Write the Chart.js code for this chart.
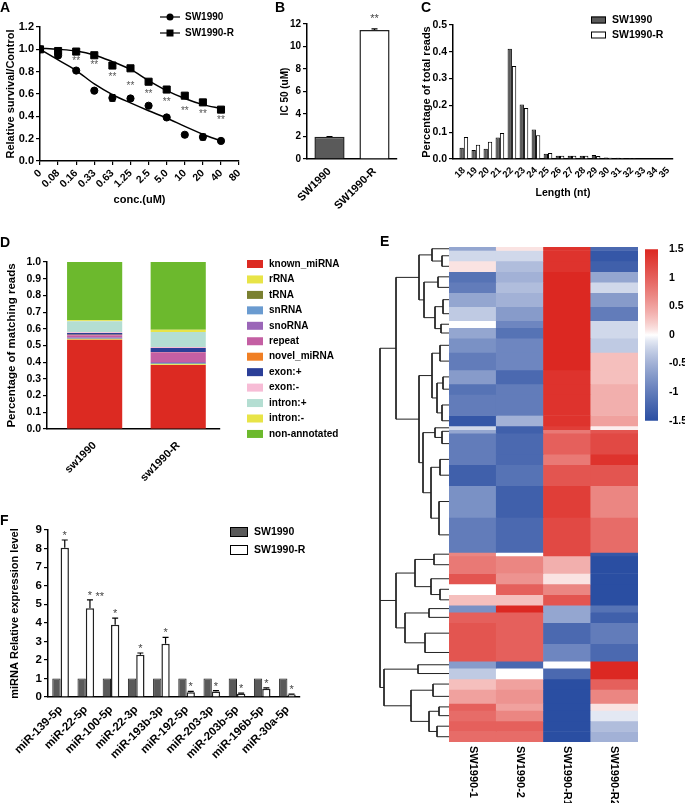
<!DOCTYPE html>
<html>
<head>
<meta charset="utf-8"/>
<title>SW1990 / SW1990-R panels</title>
<script src="https://cdn.jsdelivr.net/npm/chart.js@4.4.1/dist/chart.umd.min.js"></script>
<style>
body{margin:0;background:#fff;}
#fig{position:relative;width:685px;height:803px;overflow:hidden;background:#fff;}
canvas{position:absolute;}
</style>
</head>
<body>
<div id="fig">
<canvas id="cA" width="250" height="211" style="left:0;top:0"></canvas>
<canvas id="cB" width="150" height="215" style="left:250px;top:0"></canvas>
<canvas id="cC" width="285" height="211" style="left:400px;top:0"></canvas>
<canvas id="cD" width="360" height="280" style="left:0;top:230px"></canvas>
<canvas id="cF" width="360" height="293" style="left:0;top:510px"></canvas>
<canvas id="cTree" width="76" height="514" style="left:376px;top:232px"></canvas>
<canvas id="cHeat" width="189" height="556" style="left:449px;top:247px"></canvas>
<canvas id="cBar" width="45" height="190" style="left:640px;top:240px"></canvas>
</div>
<script>
// ---- A: survival curves
const concLabels = ['0','0.08','0.16','0.33','0.63','1.25','2.5','5.0','10','20','40','80'];
const survSW    = [1.0,0.945,0.81,0.63,0.565,0.56,0.495,0.39,0.235,0.215,0.18];
const survSWerr = [0,0.01,0,0,0.03,0,0,0,0,0.025,0];
const survR     = [1.0,0.985,0.98,0.947,0.855,0.83,0.71,0.64,0.585,0.525,0.46];
const survRerr  = [0,0,0,0,0.01,0,0,0,0.015,0,0];
const fitSW     = [1.0,0.905,0.81,0.69,0.595,0.52,0.45,0.385,0.31,0.24,0.18];
const fitR      = [1.01,1.0,0.985,0.95,0.89,0.82,0.72,0.63,0.56,0.505,0.47];
const sigA      = [null,null,0.915,0.875,0.77,0.69,0.62,0.54,0.465,0.435,0.385];

// ---- B: IC50
const icLabels = ['SW1990','SW1990-R'];
const icValues = [1.97,11.47];
const icErr    = [0.03,0.1];

// ---- C: length distribution
const lenNt = [18,19,20,21,22,23,24,25,26,27,28,29,30,31,32,33,34,35];
const lenSW = [0.042,0.034,0.038,0.080,0.411,0.203,0.110,0.020,0.012,0.012,0.012,0.015,0.006,0.005,0.004,0.002,0.002,0.001];
const lenR  = [0.082,0.053,0.064,0.097,0.347,0.190,0.089,0.022,0.012,0.012,0.012,0.011,0.005,0.004,0.003,0.002,0.001,0.001];

// ---- D: annotation of matching reads
const dSamples = ['sw1990','sw1990-R'];
const dCats = ['known_miRNA','rRNA','tRNA','snRNA','snoRNA','repeat','novel_miRNA','exon:+','exon:-','intron:+','intron:-','non-annotated'];
const dSW1990  = [0.535,0.004,0.002,0.003,0.006,0.012,0.002,0.011,0.005,0.065,0.006,0.349];
const dSW1990R = [0.383,0.004,0.003,0.005,0.006,0.058,0.002,0.024,0.006,0.090,0.013,0.406];
const dColors = ['#dc2a22','#e8e447','#7a8030','#6a9bd0','#9b66b8','#c45fa3','#f07f24','#2b3f98','#f7bcd6','#b4ded2','#e8e447','#6cb92d'];

// ---- E: heatmap (row blocks, rows per block, z-scores per sample)
const heatSamples = ['SW1990-1','SW1990-2','SW1990-R1','SW1990-R2'];
const blockRows = [1,3,3,3,3,4,4,2,3,4,5,4,3,6,3,1,1,6,3,6,9,10,1,5,3,3,3,2,3,6,5,2,3,3,4,2,3,3,3];
const heatS1 = [-0.6,-0.2,0.1,-1.1,-1.0,-0.6,-0.3,0.0,-0.6,-0.8,-1.0,-0.7,-1.1,-1.0,-1.4,-0.2,-0.6,-1.0,-1.0,-1.3,-0.8,-1.0,0.7,0.8,1.1,0.0,0.3,-0.8,1.0,1.1,1.1,-0.7,-0.3,0.3,0.5,1.0,0.9,1.0,0.9];
const heatS2 = [0.1,-0.2,-0.4,-0.5,-0.4,-0.5,-0.7,-0.9,-1.1,-0.9,-0.9,-1.2,-1.0,-1.0,-0.5,-1.3,-1.3,-1.2,-1.2,-1.1,-1.3,-1.2,0.0,0.7,0.6,1.0,0.3,1.5,1.0,1.0,1.0,-1.2,0.0,0.5,0.6,0.5,0.7,1.0,0.9];
const heatR1 = [1.4,1.4,1.4,1.5,1.5,1.5,1.5,1.5,1.5,1.5,1.5,1.4,1.4,1.4,1.4,1.3,0.8,1.0,0.8,1.1,1.3,1.2,1.2,0.4,0.1,0.7,1.1,-0.6,-0.6,-1.2,-0.9,0.0,-1.2,-1.5,-1.5,-1.5,-1.5,-1.5,-1.5];
const heatR2 = [-1.2,-1.4,-1.3,-0.6,-0.2,-0.7,-1.0,-0.2,-0.2,-0.3,0.3,0.3,0.4,0.4,0.5,0.05,1.1,1.2,1.4,1.1,0.7,0.9,-1.4,-1.5,-1.5,-1.5,-1.5,-1.1,-1.3,-1.0,-1.2,1.5,1.5,1.0,0.7,0.1,-0.1,-0.4,-0.5];
const colorTicks = [1.5,1,0.5,0,-0.5,-1,-1.5];
// dendrogram: [mergeHeight, child, child, ...], leaves are block indices
const dendroTree = [6.9,
  [5.3,
    [3.0, [1.7, 0, [0.7, 1, 2]], [2.5, [1.1, 3, 4], [1.4, [0.6, 5, 6], [0.8, 7, 8]]]],
    [3.0, [1.7, [0.9, 9, 10], [1.2, [0.6, 11, 12], [0.7, 13, 14]]],
          [2.6, [1.4, 15, [0.7, 16, 17]], [1.8, [0.9, 18, 19], [1.0, 20, 21]]]]],
  [5.3, [3.4, [1.5, 22, 23], [1.8, 24, [0.9, 25, 26]]], [4.4, [2.0, 27, 28], [2.4, 29, 30]]],
  [6.5, [3.1, 31, 32], [3.8, [1.6, 33, 34], [2.0, [1.0, 35, 36], [1.2, 37, 38]]]]
];

// ---- F: qPCR
const mirLabels = ['miR-139-5p','miR-22-5p','miR-100-5p','miR-22-3p','miR-193b-3p','miR-192-5p','miR-203-3p','miR-203b-5p','miR-196b-5p','miR-30a-5p'];
const qSW  = [1,1,1,1,1,1,1,1,1,1];
const qR   = [8.05,4.78,3.89,2.28,2.87,0.25,0.30,0.18,0.45,0.14];
const qRerr = [0.41,0.45,0.36,0.09,0.34,0.05,0.04,0.03,0.04,0.02];
const qMarks = ['*','*','*','*','*','*','*','*','*','*'];

const FONT = "'Liberation Sans', Arial, Helvetica, sans-serif";
Chart.defaults.font.family = FONT;
Chart.defaults.font.weight = 'bold';
Chart.defaults.font.size = 11;
Chart.defaults.color = '#000';
Chart.defaults.animation = false;
Chart.defaults.plugins.legend.display = false;
Chart.defaults.plugins.tooltip.enabled = false;

// error bars + significance marks on datasets that carry them
const errorBars = {
  id: 'errorBars',
  afterDatasetsDraw(chart) {
    const ctx = chart.ctx;
    chart.data.datasets.forEach((ds, i) => {
      if (!ds.errors && !ds.marks) return;
      const meta = chart.getDatasetMeta(i);
      const ys = chart.scales[meta.yAxisID];
      meta.data.forEach((el, j) => {
        const raw = ds.data[j];
        const v = typeof raw === 'object' ? raw.y : raw;
        const e = ds.errors ? ds.errors[j] : 0;
        const top = ys.getPixelForValue(v + e);
        ctx.save();
        if (e) {
          const bot = ys.getPixelForValue(ds.errBoth ? v - e : v);
          const cap = ds.cap || 3;
          ctx.strokeStyle = '#000';
          ctx.lineWidth = 1.2;
          ctx.beginPath();
          ctx.moveTo(el.x, top); ctx.lineTo(el.x, bot);
          ctx.moveTo(el.x - cap, top); ctx.lineTo(el.x + cap, top);
          if (ds.errBoth) { ctx.moveTo(el.x - cap, bot); ctx.lineTo(el.x + cap, bot); }
          ctx.stroke();
        }
        if (ds.marks && ds.marks[j]) {
          ctx.fillStyle = '#444';
          ctx.font = '11px ' + FONT;
          ctx.textAlign = 'center';
          ctx.textBaseline = 'alphabetic';
          ctx.fillText(ds.marks[j], el.x, top - (ds.markGap || 1));
        }
        ctx.restore();
      });
    });
  }
};
Chart.register(errorBars);

// panel letter, hand drawn legend, free text in data coords
function decorPlugin(cfg) {
  return {
    id: 'decor',
    afterDraw(chart) {
      const ctx = chart.ctx;
      ctx.save();
      ctx.fillStyle = '#000';
      ctx.textAlign = 'left';
      ctx.textBaseline = 'alphabetic';
      if (cfg.letter) {
        ctx.font = 'bold 14px ' + FONT;
        ctx.fillText(cfg.letter, cfg.lx, cfg.ly);
      }
      (cfg.legend || []).forEach(it => {
        let tx;
        ctx.strokeStyle = '#000';
        ctx.lineWidth = 1.2;
        if (it.shape) {
          ctx.beginPath(); ctx.moveTo(it.x, it.y); ctx.lineTo(it.x + 20, it.y); ctx.stroke();
          ctx.fillStyle = '#000';
          ctx.beginPath();
          if (it.shape === 'circle') ctx.arc(it.x + 10, it.y, 3.5, 0, Math.PI * 2);
          else ctx.rect(it.x + 6.5, it.y - 3.5, 7, 7);
          ctx.fill();
          tx = it.x + 25;
        } else {
          ctx.fillStyle = it.fill;
          ctx.fillRect(it.x, it.y - it.h / 2, it.w, it.h);
          if (it.stroke) {
            ctx.lineWidth = 1;
            ctx.strokeRect(it.x + 0.5, it.y - it.h / 2 + 0.5, it.w - 1, it.h - 1);
          }
          tx = it.x + it.w + 6;
        }
        ctx.fillStyle = '#000';
        ctx.font = 'bold ' + (it.size || 10) + 'px ' + FONT;
        ctx.textBaseline = 'middle';
        ctx.fillText(it.text, tx, it.y);
      });
      (cfg.texts || []).forEach(t => {
        const x = chart.scales.x.getPixelForValue(t.xv) + (t.dx || 0);
        const y = chart.scales.y.getPixelForValue(t.yv);
        ctx.fillStyle = t.color || '#555';
        ctx.font = (t.size || 10) + 'px ' + FONT;
        ctx.textAlign = 'center';
        ctx.textBaseline = 'middle';
        ctx.fillText(t.t, x, y + 2);
      });
      ctx.restore();
    }
  };
}

function ax(o) {
  o.border = {display: true, color: '#000', width: 1.5};
  o.grid = Object.assign({drawOnChartArea: false, tickLength: 4, color: '#000', lineWidth: 1.2}, o.grid || {});
  o.ticks = Object.assign({color: '#000', padding: 2, autoSkip: false}, o.ticks || {});
  return o;
}
const pts = arr => arr.map((v, i) => ({x: i, y: v}));

// ---------- A
new Chart(document.getElementById('cA'), {
  type: 'scatter',
  data: {datasets: [
    {data: pts(fitSW), showLine: true, borderColor: '#000', borderWidth: 1.5, pointRadius: 0, cubicInterpolationMode: 'monotone'},
    {data: pts(fitR), showLine: true, borderColor: '#000', borderWidth: 1.5, pointRadius: 0, cubicInterpolationMode: 'monotone'},
    {data: pts(survSW), pointStyle: 'circle', pointRadius: 3.6, backgroundColor: '#000', borderColor: '#000', errors: survSWerr, errBoth: true},
    {data: pts(survR), pointStyle: 'rect', pointRadius: 5, backgroundColor: '#000', borderColor: '#000', errors: survRerr, errBoth: true}
  ]},
  options: {
    responsive: false,
    layout: {padding: {top: 27, right: 7, left: 0, bottom: 0}},
    scales: {
      x: ax({type: 'linear', min: 0, max: 11, afterFit: s => { s.height = 50; },
        ticks: {stepSize: 1, maxRotation: 45, minRotation: 45, font: {size: 10.5}, callback: v => concLabels[v]},
        title: {display: true, text: 'conc.(uM)', font: {size: 11}, padding: {top: 0, bottom: 4}}}),
      y: ax({min: 0, max: 1.2, afterFit: s => { s.width = 40; },
        ticks: {stepSize: 0.2, callback: v => v.toFixed(1)},
        title: {display: true, text: 'Relative survival/Control', font: {size: 11}, padding: {top: 4, bottom: 0}}})
    }
  },
  plugins: [decorPlugin({
    letter: 'A', lx: 0, ly: 12,
    legend: [
      {shape: 'circle', text: 'SW1990', x: 160, y: 17},
      {shape: 'rect', text: 'SW1990-R', x: 160, y: 33}
    ],
    texts: sigA.map((v, i) => v == null ? null : {t: '**', xv: i, yv: v}).filter(Boolean)
  })]
});

// ---------- B
new Chart(document.getElementById('cB'), {
  type: 'bar',
  data: {labels: icLabels, datasets: [{
    data: icValues, errors: icErr, marks: ['', '**'], markGap: 7,
    backgroundColor: ['#5a5a5a', '#ffffff'], borderColor: '#222', borderWidth: 1.5,
    categoryPercentage: 0.67, barPercentage: 1
  }]},
  options: {
    responsive: false,
    layout: {padding: {top: 24, right: 3, left: 0, bottom: 0}},
    scales: {
      x: ax({afterFit: s => { s.height = 56; }, grid: {display: false},
        ticks: {maxRotation: 45, minRotation: 45, font: {size: 11}}}),
      y: ax({min: 0, max: 12, afterFit: s => { s.width = 57; },
        ticks: {stepSize: 2, font: {size: 10}},
        title: {display: true, text: 'IC 50 (uM)', font: {size: 10}, padding: {top: 29, bottom: 0}}})
    }
  },
  plugins: [decorPlugin({letter: 'B', lx: 25, ly: 12})]
});

// ---------- C
new Chart(document.getElementById('cC'), {
  type: 'bar',
  data: {datasets: [
    {label: 'SW1990', data: lenNt.map((x, i) => ({x: x, y: lenSW[i]})), backgroundColor: '#5a5a5a', borderColor: '#000', borderWidth: 1},
    {label: 'SW1990-R', data: lenNt.map((x, i) => ({x: x, y: lenR[i]})), backgroundColor: '#ffffff', borderColor: '#000', borderWidth: 1}
  ]},
  options: {
    responsive: false,
    categoryPercentage: 0.72, barPercentage: 1,
    layout: {padding: {top: 25, right: 12, left: 0, bottom: 0}},
    scales: {
      x: ax({type: 'linear', min: 17.1, max: 35.4, offset: false, grid: {display: false, offset: false},
        afterFit: s => { s.height = 52; },
        afterBuildTicks: s => { s.ticks = lenNt.map(v => ({value: v})); },
        ticks: {maxRotation: 45, minRotation: 45, font: {size: 9.5}, callback: v => String(v)},
        title: {display: true, text: 'Length (nt)', font: {size: 10.5}, padding: {top: 0, bottom: 12}}}),
      y: ax({min: 0, max: 0.5, afterFit: s => { s.width = 53; },
        ticks: {stepSize: 0.1, font: {size: 10.5}, callback: v => v.toFixed(1)},
        title: {display: true, text: 'Percentage of total reads', font: {size: 11}, padding: {top: 20, bottom: 0}}})
    }
  },
  plugins: [decorPlugin({
    letter: 'C', lx: 21, ly: 12,
    legend: [
      {fill: '#5a5a5a', stroke: true, w: 15, h: 7, x: 191, y: 20, text: 'SW1990', size: 10.5},
      {fill: '#ffffff', stroke: true, w: 15, h: 7, x: 191, y: 35, text: 'SW1990-R', size: 10.5}
    ]
  })]
});

// ---------- D
new Chart(document.getElementById('cD'), {
  type: 'bar',
  data: {datasets: dCats.map((c, k) => ({
    label: c,
    data: [{x: 0, y: dSW1990[k]}, {x: 1, y: dSW1990R[k]}],
    backgroundColor: dColors[k], borderWidth: 0,
    categoryPercentage: 0.66, barPercentage: 1
  }))},
  options: {
    responsive: false,
    layout: {padding: {top: 32, right: 140, left: 0, bottom: 0}},
    scales: {
      x: ax({type: 'linear', stacked: true, min: -0.57, max: 1.5, offset: false, grid: {display: false, offset: false},
        afterFit: s => { s.height = 81; },
        afterBuildTicks: s => { s.ticks = [{value: 0}, {value: 1}]; },
        ticks: {maxRotation: 45, minRotation: 45, padding: 6, callback: v => dSamples[v]}}),
      y: ax({stacked: true, min: 0, max: 1, afterFit: s => { s.width = 47; },
        ticks: {stepSize: 0.1, font: {size: 10.5}, callback: v => v.toFixed(1)},
        title: {display: true, text: 'Percentage of matching reads', font: {size: 11.5}, padding: {top: 5, bottom: 0}}})
    }
  },
  plugins: [decorPlugin({
    letter: 'D', lx: 0, ly: 17,
    legend: dCats.map((c, k) => ({fill: dColors[k], w: 16, h: 8, x: 247, y: 34 + 15.45 * k, text: c, size: 10}))
  })]
});

// ---------- F
new Chart(document.getElementById('cF'), {
  type: 'bar',
  data: {labels: mirLabels, datasets: [
    {label: 'SW1990', data: qSW, backgroundColor: '#5a5a5a', borderColor: '#222', borderWidth: 1},
    {label: 'SW1990-R', data: qR, errors: qRerr, marks: qMarks, markGap: 1, backgroundColor: '#ffffff', borderColor: '#222', borderWidth: 1.5}
  ]},
  options: {
    responsive: false,
    categoryPercentage: 0.66, barPercentage: 1,
    layout: {padding: {top: 20, right: 60, left: 0, bottom: 0}},
    scales: {
      x: ax({afterFit: s => { s.height = 106; }, grid: {display: false},
        ticks: {maxRotation: 45, minRotation: 45, font: {size: 11.5}}}),
      y: ax({min: 0, max: 9, afterFit: s => { s.width = 48; },
        ticks: {stepSize: 1, font: {size: 11.5}},
        title: {display: true, text: 'miRNA Relative expression level', font: {size: 11}, padding: {top: 8.5, bottom: 0}}})
    }
  },
  plugins: [decorPlugin({
    letter: 'F', lx: 0, ly: 15,
    legend: [
      {fill: '#5a5a5a', stroke: true, w: 18, h: 10, x: 230, y: 22, text: 'SW1990', size: 10.5},
      {fill: '#ffffff', stroke: true, w: 18, h: 10, x: 230, y: 40, text: 'SW1990-R', size: 10.5}
    ],
    texts: [{t: '**', xv: 1, yv: 5.5, dx: 14, size: 11, color: '#444'}]
  })]
});

// ---------- E heatmap
function heatColor(v) {
  const t = Math.pow(Math.min(Math.abs(v) / 1.5, 1), 0.75);
  const end = v < 0 ? [42, 78, 162] : [220, 40, 34];
  const c = end.map(e => Math.round(255 + (e - 255) * t));
  return 'rgb(' + c.join(',') + ')';
}
const totalRows = blockRows.reduce((a, b) => a + b, 0);
const heatCols = [heatS1, heatS2, heatR1, heatR2];

const heatLabels = {
  id: 'heatLabels',
  afterDraw(chart) {
    const ctx = chart.ctx, xs = chart.scales.x, area = chart.chartArea;
    ctx.save();
    ctx.font = 'bold 11px ' + FONT;
    ctx.fillStyle = '#000';
    ctx.textAlign = 'left';
    ctx.textBaseline = 'middle';
    chart.data.labels.forEach((lab, i) => {
      ctx.save();
      ctx.translate(xs.getPixelForValue(i), area.bottom + 4);
      ctx.rotate(Math.PI / 2);
      ctx.fillText(lab, 0, 0);
      ctx.restore();
    });
    ctx.restore();
  }
};

new Chart(document.getElementById('cHeat'), {
  type: 'bar',
  data: {labels: heatSamples, datasets: blockRows.map((n, b) => ({
    data: heatSamples.map(() => n),
    backgroundColor: heatCols.map(col => heatColor(col[b])),
    borderWidth: 0, barPercentage: 1, categoryPercentage: 1
  }))},
  options: {
    responsive: false,
    layout: {padding: {top: 0, left: 0, right: 0, bottom: 61}},
    scales: {
      x: {display: false, stacked: true},
      y: {display: false, stacked: true, min: 0, max: totalRows, reverse: true}
    }
  },
  plugins: [heatLabels]
});

// dendrogram segments from the tree
const leafY = [];
blockRows.reduce((acc, n) => { leafY.push(acc + n / 2); return acc + n; }, 0);
const treePts = [];
function placeNode(node) {
  if (typeof node === 'number') return {y: leafY[node], h: 0};
  const h = node[0];
  const kids = node.slice(1).map(placeNode);
  kids.forEach(k => { treePts.push({x: h, y: k.y}, {x: k.h, y: k.y}, {x: null, y: null}); });
  const ys = kids.map(k => k.y);
  const lo = Math.min(...ys), hi = Math.max(...ys);
  treePts.push({x: h, y: lo}, {x: h, y: hi}, {x: null, y: null});
  return {y: (lo + hi) / 2, h: h};
}
placeNode(dendroTree);

new Chart(document.getElementById('cTree'), {
  type: 'scatter',
  data: {datasets: [{data: treePts, showLine: true, spanGaps: false, borderColor: '#222', borderWidth: 1, pointRadius: 0, clip: false}]},
  options: {
    responsive: false,
    layout: {padding: {top: 15, left: 4, right: 3, bottom: 4}},
    scales: {
      x: {type: 'linear', display: false, min: 0, max: dendroTree[0], reverse: true},
      y: {type: 'linear', display: false, min: 0, max: totalRows, reverse: true}
    }
  },
  plugins: [decorPlugin({letter: 'E', lx: 4, ly: 14})]
});

// colour key
new Chart(document.getElementById('cBar'), {
  type: 'bar',
  data: {labels: [''], datasets: [{
    data: [[colorTicks[colorTicks.length - 1], colorTicks[0]]],
    borderWidth: 0, barPercentage: 1, categoryPercentage: 1,
    backgroundColor: c => {
      const area = c.chart.chartArea;
      if (!area) return '#fff';
      const g = c.chart.ctx.createLinearGradient(0, area.bottom, 0, area.top);
      for (let s = 0; s <= 30; s++) g.addColorStop(s / 30, heatColor(-1.5 + s * 0.1));
      return g;
    }
  }]},
  options: {
    responsive: false,
    layout: {padding: {top: 7.5, left: 5, right: 0, bottom: 8}},
    scales: {
      x: {display: false},
      y: {position: 'right', min: -1.5, max: 1.5, afterFit: s => { s.width = 27; },
        border: {display: false}, grid: {display: false},
        afterBuildTicks: s => { s.ticks = colorTicks.map(v => ({value: v})); },
        ticks: {padding: 3, font: {size: 10.5}, callback: v => String(v)}}
    }
  }
});
</script>
</body>
</html>
